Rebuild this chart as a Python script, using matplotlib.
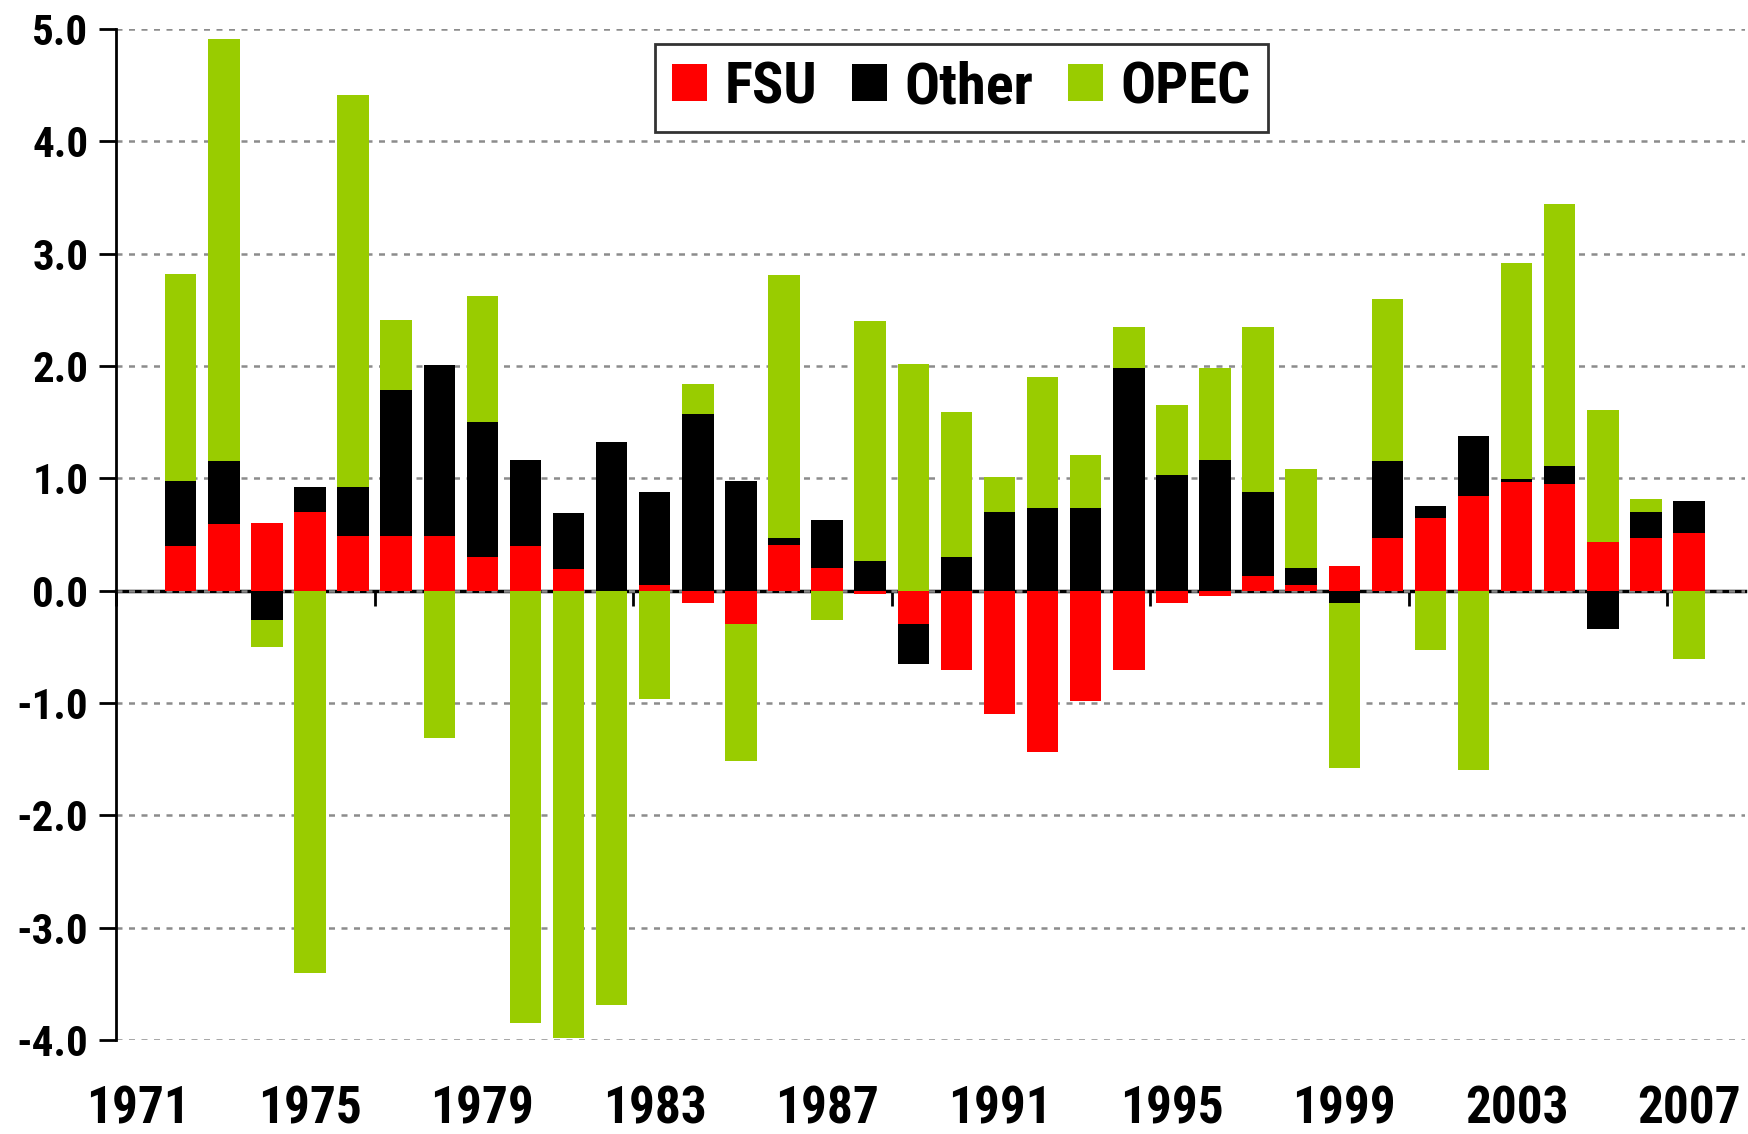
import numpy as np
import matplotlib
matplotlib.use("Agg")
import matplotlib.pyplot as plt
from matplotlib.ticker import FormatStrFormatter

plt.rcParams['font.family'] = ['Roboto Condensed', 'Liberation Sans', 'DejaVu Sans']
plt.rcParams['font.weight'] = 'bold'
plt.rcParams['axes.unicode_minus'] = False

# annual change by region; 1971 has no bar
years = list(range(1971, 2008))
fsu = [np.nan, 0.40, 0.59, 0.60, 0.70, 0.49, 0.49, 0.49, 0.30, 0.40,
       0.19, 0.00, 0.05, -0.11, -0.30, 0.41, 0.20, -0.03, -0.30, -0.71,
       -1.10, -1.44, -0.98, -0.71, -0.11, -0.05, 0.13, 0.05, 0.22, 0.47,
       0.65, 0.84, 0.97, 0.95, 0.43, 0.47, 0.51]
other = [np.nan, 0.58, 0.56, -0.26, 0.22, 0.43, 1.30, 1.52, 1.20, 0.76,
         0.50, 1.32, 0.83, 1.57, 0.98, 0.06, 0.43, 0.26, -0.35, 0.30,
         0.70, 0.74, 0.74, 1.98, 1.03, 1.16, 0.75, 0.15, -0.11, 0.68,
         0.10, 0.54, 0.02, 0.16, -0.34, 0.23, 0.29]
opec = [np.nan, 1.84, 3.76, -0.24, -3.40, 3.49, 0.62, -1.31, 1.12, -3.85,
        -3.98, -3.69, -0.96, 0.27, -1.22, 2.34, -0.26, 2.14, 2.02, 1.29,
        0.31, 1.16, 0.47, 0.37, 0.62, 0.82, 1.47, 0.88, -1.47, 1.45,
        -0.53, -1.60, 1.93, 2.33, 1.18, 0.12, -0.61]

series = [("FSU", fsu, "#FF0000"), ("Other", other, "#000000"), ("OPEC", opec, "#99CC00")]

x = np.arange(len(years))
fig = plt.figure(figsize=(17.48, 11.34), dpi=100)
ax = fig.add_axes([0.0664, 0.0829, 0.9319, 0.8915])

# Excel-style stacking: positives stack up, negatives stack down
pos_base = np.zeros(len(years))
neg_base = np.zeros(len(years))
for name, vals, col in series:
    v = np.nan_to_num(np.array(vals, dtype=float))
    bottom = np.where(v >= 0, pos_base, neg_base)
    ax.bar(x, v, bottom=bottom, width=0.73, color=col, label=name, zorder=2)
    pos_base += np.where(v >= 0, v, 0)
    neg_base += np.where(v < 0, v, 0)

ax.set_ylim(-4, 5)
ax.set_xlim(-0.5, 37.3)
ax.set_yticks(np.arange(-4, 5.1, 1))
ax.yaxis.set_major_formatter(FormatStrFormatter('%.1f'))
ax.tick_params(axis='y', labelsize=31, length=12, width=2, pad=8)
ax.yaxis.grid(True, color='#8c8c8c', linewidth=1.8, linestyle=(0, (2.4, 2.6)), zorder=0)
ax.set_axisbelow(True)

# year labels along the bottom, no tick marks
ax.set_xticks(x[::4])
ax.set_xticklabels([str(y) for y in years[::4]])
ax.tick_params(axis='x', labelsize=37, length=0, pad=32)

for s in ['top', 'right', 'bottom']:
    ax.spines[s].set_visible(False)
ax.spines['left'].set_linewidth(2)

# zero line with tick marks every 6 categories
zero = ax.secondary_xaxis(4 / 9)
zero.set_xticks(np.arange(-0.5, 37, 6))
zero.tick_params(axis='x', direction='out', length=11, width=2, labelbottom=False, labeltop=False)
zero.spines['bottom'].set_linewidth(2.5)
zero.spines['top'].set_linewidth(2.5)

leg = ax.legend(loc='upper center', bbox_to_anchor=(0.519, 0.985), ncol=3, fontsize=42,
                frameon=True, fancybox=False, handlelength=0.6, handleheight=0.6,
                handletextpad=0.3, columnspacing=0.6, borderpad=0.28, borderaxespad=0)
leg.get_frame().set_edgecolor('black')
leg.get_frame().set_linewidth(2)

fig.savefig("out.png", dpi=100)
